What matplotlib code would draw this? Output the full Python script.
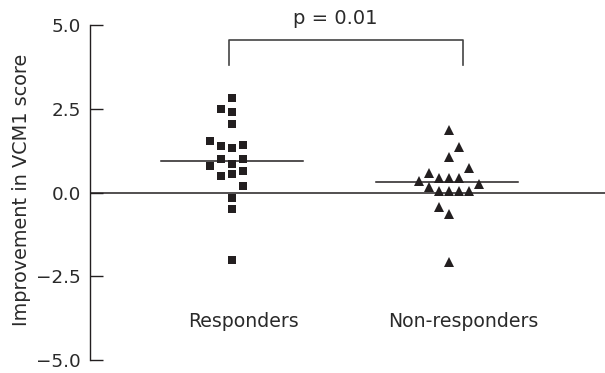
import matplotlib
matplotlib.use("Agg")
import matplotlib.pyplot as plt
import numpy as np

# ---- data ----
groups = ["Responders", "Non-responders"]
resp_values = [2.81, 2.48, 2.39, 2.04, 1.53, 1.39, 1.32, 1.41, 0.99, 0.99,
               0.84, 0.78, 0.64, 0.48, 0.54, 0.19, -0.17, -0.50, -2.02]
resp_cols = [0, -1, 0, 0, -2, -1, 0, 1, -1, 1, 0, -2, 1, -1, 0, 1, 0, 0, 0]
nonresp_values = [1.87, 1.35, 1.07, 0.72, 0.57, 0.44, 0.44, 0.44, 0.35, 0.25,
                  0.17, 0.05, 0.05, 0.05, 0.05, -0.44, -0.63, -2.07]
nonresp_cols = [0, 1, 0, 2, -2, -1, 0, 1, -3, 3, -2, -1, 0, 1, 2, -1, 0, 0]
medians = [0.95, 0.32]
yticks = [-5.0, -2.5, 0.0, 2.5, 5.0]
ylabel = "Improvement in VCM1 score"
p_text = "p = 0.01"

# ---- style ----
ink = "#231f20"
txt = "#2a2a2a"
plt.rcParams['font.family'] = ['DejaVu Sans']
plt.rcParams['axes.unicode_minus'] = True

fig = plt.figure(figsize=(6.05, 3.73), dpi=100)
ax = fig.add_axes([90/605, 13/373, 515/605, 335/373])

pos = [1, 2]

ax.plot(pos[0] + np.array(resp_cols) * 0.05, resp_values, linestyle='none',
        marker='s', markersize=5.9, color=ink, markeredgewidth=0, zorder=3)
ax.plot(pos[1] + np.array(nonresp_cols) * 0.046, nonresp_values, linestyle='none',
        marker='^', markersize=6.5, color=ink, markeredgewidth=0, zorder=3)

half = 0.327
med_centers = [pos[0], pos[1] - 0.01]
for c, m in zip(med_centers, medians):
    ax.plot([c - half, c + half], [m, m], color=ink, lw=1.1, zorder=2)

ax.axhline(0, color=ink, lw=1.1, zorder=1)

# significance bracket
bx0, bx1 = 0.988, 2.065
ytop, ybot = 4.55, 3.8
ax.plot([bx0, bx0, bx1, bx1], [ybot, ytop, ytop, ybot], color="#444444", lw=1.2,
        clip_on=False)
t_p = ax.text(1.478, 5.2, p_text, ha='center', va='center', fontsize=12, color=txt)

# category labels
t_r = ax.text(1.055, -3.84, groups[0], ha='center', va='center', fontsize=13, color=txt)
t_n = ax.text(2.065, -3.84, groups[1], ha='center', va='center', fontsize=13, color=txt)

ax.set_xlim(0.3456, 2.719)
ax.set_ylim(-5, 5)
ax.set_yticks(yticks)
ax.set_yticklabels([f"{v:.1f}".replace("-", "\u2212") for v in yticks])
ax.set_xticks([])
for s in ['top', 'right', 'bottom']:
    ax.spines[s].set_visible(False)
ax.spines['left'].set_color(ink)
ax.spines['left'].set_linewidth(1.0)
ax.tick_params(axis='y', direction='in', length=9.4, width=1.0, color=ink,
               pad=6.5, labelsize=12, labelcolor=txt)
yl = ax.set_ylabel(ylabel, fontsize=12, color=txt)
ax.patch.set_alpha(0)

# fit font sizes to the measured text widths of the reference
fig.canvas.draw()
r = fig.canvas.get_renderer()
def fit(t, target, horiz=True):
    bb = t.get_window_extent(r)
    size = bb.width if horiz else bb.height
    t.set_fontsize(t.get_fontsize() * target / size)
fit(t_p, 84)
w_cat = t_r.get_window_extent(r).width + t_n.get_window_extent(r).width
cat_size = 13 * (108 + 152) / w_cat
t_r.set_fontsize(cat_size)
t_n.set_fontsize(cat_size)
fit(yl, 272, horiz=False)
tl = ax.get_yticklabels()[-1]
bb = tl.get_window_extent(r)
ax.tick_params(axis='y', labelsize=12 * 29 / bb.width)

# y label: glyphs centred near x = 22 px, y = 190 px
yl.set_rotation_mode('anchor')
yl.set_verticalalignment('center')
ax.yaxis.set_label_coords((22 - 90) / 515, (360 - 190) / 335)

fig.savefig("out.png", dpi=100)
